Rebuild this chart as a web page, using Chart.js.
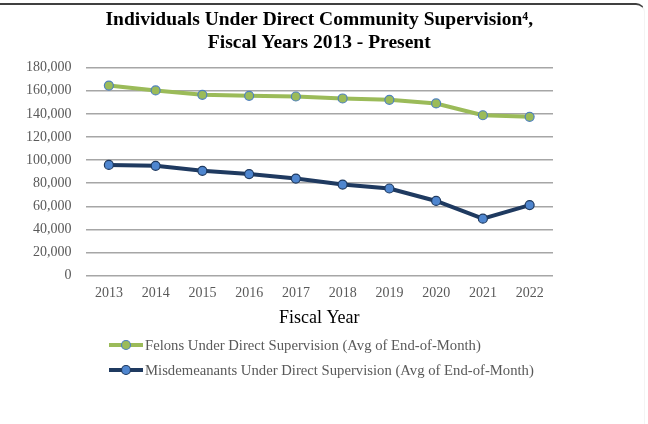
<!DOCTYPE html>
<html>
<head>
<meta charset="utf-8">
<script src="https://cdn.jsdelivr.net/npm/chart.js@4.4.1/dist/chart.umd.min.js"></script>
<style>
  html, body { margin: 0; padding: 0; background: #fff; }
  #wrap { position: relative; width: 648px; height: 424px; overflow: hidden; }
  #frame {
    position: absolute; left: -12px; top: 3px; width: 657px; height: 440px;
    border-top: 2px solid #404040; border-right: 1px solid #f4f4f4;
    border-top-right-radius: 9px; box-sizing: border-box;
  }
  #c { position: absolute; left: 0; top: 0; }
</style>
</head>
<body>
<div id="wrap">
  <div id="frame"></div>
  <canvas id="c" width="648" height="424"></canvas>
</div>
<script>
// Années fiscales
const annees = ['2013', '2014', '2015', '2016', '2017', '2018', '2019', '2020', '2021', '2022'];

// Moyenne des fins de mois
const felons = [164500, 160300, 156500, 155600, 155000, 153300, 152100, 149000, 138800, 137400];
const misdemeanants = [95800, 95000, 90700, 87900, 84000, 78800, 75400, 64600, 49300, 61000];

const labelFelons = 'Felons Under Direct Supervision (Avg of End-of-Month)';
const labelMisd = 'Misdemeanants Under Direct Supervision (Avg of End-of-Month)';

const police = "'Liberation Serif', 'Times New Roman', serif";
const gris = '#595959';

// Légende dessinée à la main : trait + rond, alignée à gauche
const legendeManuelle = {
  id: 'legendeManuelle',
  afterDraw(chart) {
    const ctx = chart.ctx;
    const x0 = 109, x1 = 143;
    const ys = [345, 370];
    chart.data.datasets.forEach((ds, i) => {
      const y = ys[i];
      ctx.save();
      ctx.strokeStyle = ds.borderColor;
      ctx.lineWidth = 4;
      ctx.beginPath();
      ctx.moveTo(x0, y);
      ctx.lineTo(x1, y);
      ctx.stroke();
      ctx.beginPath();
      ctx.arc((x0 + x1) / 2, y, 4.5, 0, Math.PI * 2);
      ctx.fillStyle = ds.pointBackgroundColor;
      ctx.fill();
      ctx.lineWidth = 1.2;
      ctx.strokeStyle = ds.pointBorderColor;
      ctx.stroke();
      ctx.fillStyle = gris;
      ctx.font = '14.7px ' + police;
      ctx.textBaseline = 'middle';
      ctx.fillText(ds.label, x1 + 2, y + 1);
      ctx.restore();
    });
  }
};

new Chart(document.getElementById('c'), {
  type: 'line',
  data: {
    labels: annees,
    datasets: [
      {
        label: labelFelons,
        data: felons,
        borderColor: '#9bbb59',
        borderWidth: 4,
        pointBackgroundColor: '#9bbb59',
        pointBorderColor: '#4f81bd',
        pointBorderWidth: 1.2,
        pointRadius: 4.5,
        tension: 0
      },
      {
        label: labelMisd,
        data: misdemeanants,
        borderColor: '#1f3a60',
        borderWidth: 4,
        pointBackgroundColor: '#4f86cf',
        pointBorderColor: '#1f3a60',
        pointBorderWidth: 1.2,
        pointRadius: 4.5,
        tension: 0
      }
    ]
  },
  options: {
    responsive: false,
    animation: false,
    layout: { padding: { left: 12, right: 95, top: 7, bottom: 95 } },
    plugins: {
      legend: { display: false },
      tooltip: { enabled: false },
      title: {
        display: true,
        fullSize: false,
        text: ['Individuals Under Direct Community Supervision\u2074,', 'Fiscal Years 2013 - Present'],
        color: '#000',
        font: { family: police, size: 19.5, weight: 'bold', lineHeight: 1.17 },
        padding: { top: 2, bottom: 13 }
      }
    },
    scales: {
      x: {
        offset: true,
        grid: { display: false },
        border: { display: false },
        ticks: { color: gris, font: { family: police, size: 14 }, padding: 1 },
        title: {
          display: true,
          text: 'Fiscal Year',
          color: '#000',
          font: { family: police, size: 18 },
          padding: { top: 5, bottom: 0 }
        }
      },
      y: {
        min: 0,
        max: 180000,
        grid: { color: '#a6a6a6', lineWidth: 1.5, drawTicks: false },
        border: { display: false },
        ticks: {
          stepSize: 20000,
          color: gris,
          font: { family: police, size: 14 },
          padding: 14,
          callback: v => v.toLocaleString('en-US')
        }
      }
    }
  },
  plugins: [legendeManuelle]
});
</script>
</body>
</html>
